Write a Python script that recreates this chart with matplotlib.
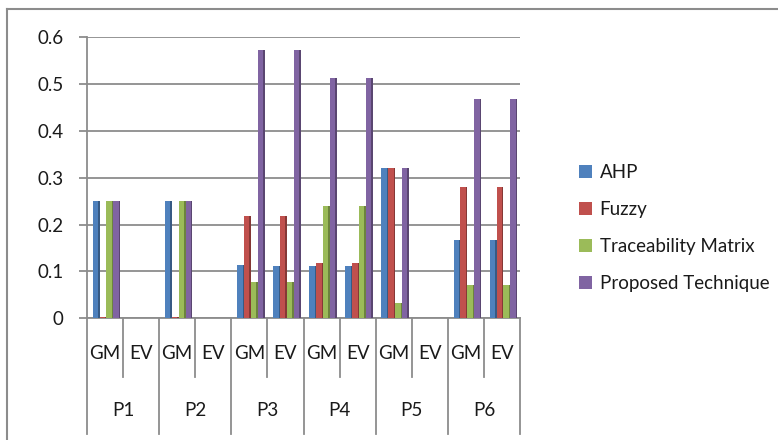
import numpy as np
import matplotlib.pyplot as plt
from matplotlib.lines import Line2D
from matplotlib.colors import to_rgb

plt.rcParams['font.family'] = ['Lato', 'DejaVu Sans']

# datos
projects = ['P1', 'P2', 'P3', 'P4', 'P5', 'P6']
methods = ['GM', 'EV']
series = ['AHP', 'Fuzzy', 'Traceability Matrix', 'Proposed Technique']
colors = ['#4F81BD', '#C0504D', '#9BBB59', '#8064A2']

ahp = [0.25, 0, 0.25, 0, 0.114, 0.112, 0.112, 0.112, 0.32, 0, 0.166, 0.166]
fuzzy = [0.003, 0, 0.003, 0, 0.219, 0.219, 0.117, 0.117, 0.32, 0, 0.281, 0.281]
trace = [0.25, 0, 0.25, 0, 0.078, 0.078, 0.24, 0.24, 0.032, 0, 0.07, 0.07]
proposed = [0.25, 0, 0.25, 0, 0.574, 0.574, 0.513, 0.513, 0.32, 0, 0.468, 0.468]
values = [ahp, fuzzy, trace, proposed]

W, H = 778, 440
fig = plt.figure(figsize=(W / 100, H / 100), dpi=100)
ax = fig.add_axes([87 / W, (H - 318) / H, 433 / W, 280.5 / H])

x = np.arange(len(projects) * len(methods))
bw = 0.19
for i, (vals, c) in enumerate(zip(values, colors)):
    pos = x + 0.04 + (i - 1.5) * bw
    dark = tuple(v * 0.7 for v in to_rgb(c))
    # cara frontal + cara lateral mas oscura (efecto 3D)
    ax.bar(pos - 0.02, vals, width=bw - 0.04, color=c, label=series[i], zorder=3)
    ax.bar(pos + bw / 2 - 0.02, vals, width=0.04, color=dark, zorder=3)

ax.set_xlim(-0.5, 11.5)
ax.set_ylim(0, 0.6)
ax.set_yticks(np.arange(0, 0.61, 0.1))
ax.set_yticklabels(['0', '0.1', '0.2', '0.3', '0.4', '0.5', '0.6'])
ax.grid(axis='y', color='#8c8c8c', lw=1.3, zorder=0)
ax.set_xticks([])
for s in ['top', 'right']:
    ax.spines[s].set_visible(False)
for s in ['left', 'bottom']:
    ax.spines[s].set_color('#8c8c8c')
    ax.spines[s].set_linewidth(1.3)
ax.tick_params(axis='y', length=6, width=1.3, color='#8c8c8c', pad=11,
               labelsize=13.5, labelcolor='#1a1a1a')

# etiquetas de categoria en dos niveles
tr = ax.get_xaxis_transform()
for k in range(len(x) + 1):
    b = k - 0.5
    low = -0.414 if k % 2 == 0 else -0.21
    ax.plot([b, b], [0, low], color='#8c8c8c', lw=1.3, transform=tr, clip_on=False)
for k in x:
    ax.text(k, -0.125, methods[k % 2], transform=tr, ha='center', va='center',
            fontsize=13.5, color='#1a1a1a')
for j, p in enumerate(projects):
    ax.text(2 * j + 0.5, -0.328, p, transform=tr, ha='center', va='center',
            fontsize=13.5, color='#1a1a1a')

fig.legend(loc='center left', bbox_to_anchor=(562 / W, 1 - 228 / H), frameon=False,
           fontsize=13.5, handlelength=0.7, handleheight=0.7, handletextpad=0.4,
           labelspacing=1.08, labelcolor='#1a1a1a')

# marco exterior
fig.add_artist(Line2D([7 / W, 1], [1 - 9 / H] * 2, color='#8c8c8c', lw=1.5))
fig.add_artist(Line2D([7 / W] * 2, [0, 1 - 9 / H], color='#8c8c8c', lw=1.5))

fig.savefig('out.png', dpi=100)
